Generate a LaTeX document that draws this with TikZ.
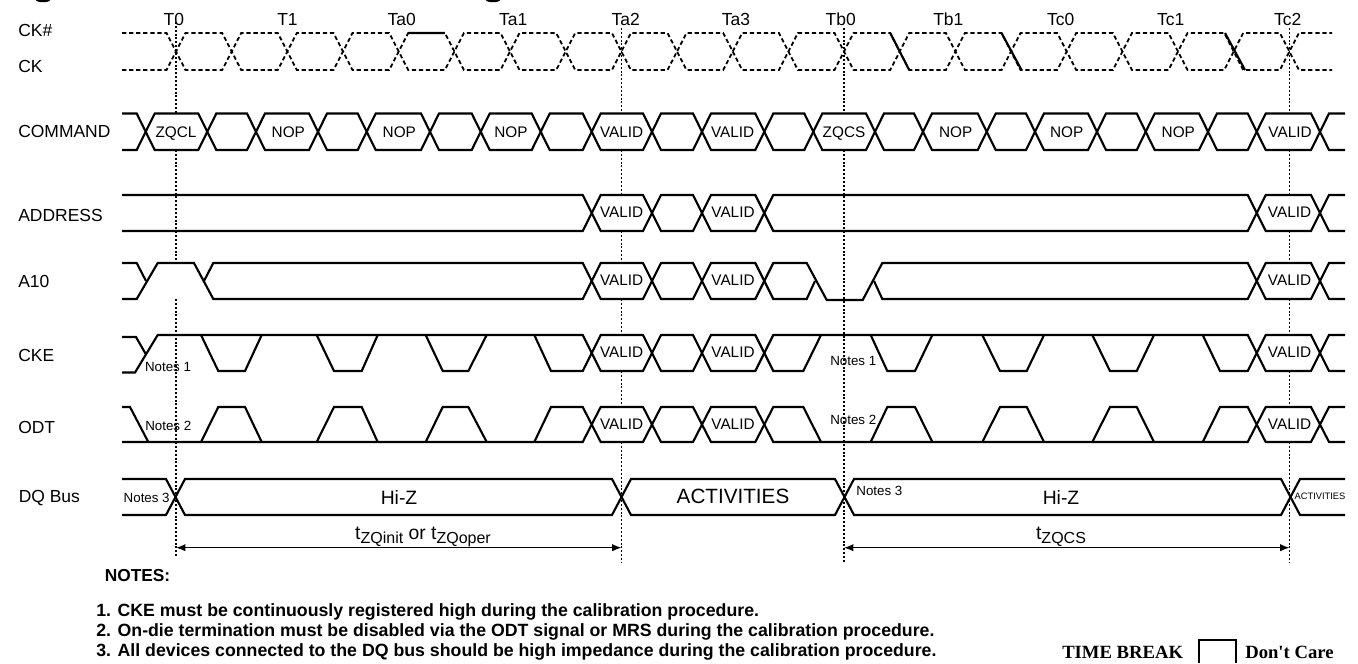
\documentclass[tikz,border=0pt]{standalone}
\usepackage{fontspec}
\usetikzlibrary{arrows.meta}
\setmainfont{Liberation Sans}
\newfontfamily\legendfont{Liberation Serif}

\newcommand{\tsub}[1]{t\raisebox{-3pt}{\fontsize{12}{12}\selectfont #1}}

% clock, start level and other level
\newcommand{\ckwave}[2]{(122,#1) -- (166.5,#1) -- (185.5,#2) -- (222.2,#2) -- (241.2,#1) -- (277.8,#1) -- (296.8,#2)
  -- (333.5,#2) -- (352.5,#1) -- (389.2,#1) -- (408.2,#2) -- (444.9,#2) -- (463.9,#1) -- (500.5,#1) -- (519.5,#2)
  -- (556.2,#2) -- (575.2,#1) -- (611.9,#1) -- (630.9,#2) -- (667.5,#2) -- (686.5,#1) -- (723.2,#1) -- (742.2,#2)
  -- (778.9,#2) -- (797.9,#1) -- (834.5,#1) -- (853.5,#2) -- (890.2,#2) -- (909.2,#1) -- (945.9,#1) -- (964.9,#2)
  -- (1001.5,#2) -- (1020.5,#1) -- (1057.2,#1) -- (1076.2,#2) -- (1112.9,#2) -- (1131.9,#1) -- (1168.5,#1) -- (1187.5,#2)
  -- (1224.2,#2) -- (1243.2,#1) -- (1279.9,#1) -- (1298.9,#2) -- (1332,#2)}
% command bus
\newcommand{\cmdwave}[2]{(122,#1) -- (136.7,#1) -- (154.7,#2) -- (198.3,#2) -- (216.3,#1) -- (247,#1) -- (265,#2)
  -- (309,#2) -- (327,#1) -- (357.7,#1) -- (375.7,#2) -- (421,#2) -- (439,#1) -- (471.7,#1) -- (489.7,#2)
  -- (531.7,#2) -- (549.7,#1) -- (582.7,#1) \validpair{#1}{#2} -- (804.3,#1) -- (822.3,#2)
  -- (866,#2) -- (884,#1) -- (914,#1) -- (932,#2) -- (977.7,#2) -- (995.7,#1) -- (1026,#1) -- (1044,#2)
  -- (1088,#2) -- (1106,#1) -- (1136.7,#1) -- (1154.7,#2) -- (1199,#2) -- (1217,#1) -- (1247.7,#1) \validlast{#1}{#2}}
\newcommand{\validpair}[2]{-- (600.7,#2) -- (643,#2) -- (661,#1) -- (693,#1) -- (711,#2) -- (755.3,#2) -- (773.3,#1)}
\newcommand{\validlast}[2]{-- (1265.7,#2) -- (1311,#2) -- (1329,#1) -- (1345,#1)}
% the dents of CKE and the humps of ODT
\newcommand{\dents}[2]{(201,#1) -- (218.3,#2) -- (245,#2) -- (261.7,#1)
  (316.7,#1) -- (334,#2) -- (361.7,#2) -- (377.7,#1)
  (425.7,#1) -- (442.7,#2) -- (468.3,#2) -- (486.7,#1)
  (534.3,#1) -- (551,#2) -- (582.7,#2) \validpair{#2}{#1} -- (803.3,#2) -- (821,#1)
  (870.7,#1) -- (887.3,#2) -- (915,#2) -- (932.3,#1)
  (982.3,#1) -- (1000,#2) -- (1026.7,#2) -- (1044,#1)
  (1092.3,#1) -- (1110,#2) -- (1136.7,#2) -- (1154,#1)
  (1202.7,#1) -- (1220,#2) -- (1247.7,#2) \validlast{#2}{#1}}

\tikzset{
  wave/.style={line width=1.6pt,line join=miter},
  ckdash/.style={line width=1.35pt,dash pattern=on 3.2pt off 2.1pt},
  marker/.style={line width=.9pt,dash pattern=on 1.5pt off 1.4pt},
  span/.style={line width=1pt,{Latex[length=7pt,width=5.5pt]}-{Latex[length=7pt,width=5.5pt]}},
  signame/.style={anchor=west,inner sep=0pt,text height=9.4pt,text depth=0pt,font=\fontsize{13.1}{13.1}\selectfont},
  tick/.style={inner sep=0pt,text height=9.4pt,text depth=0pt,font=\fontsize{13.1}{13.1}\selectfont},
  cell/.style={inner sep=0pt,text height=8.2pt,text depth=0pt,font=\fontsize{11.5}{11.5}\selectfont},
  noteref/.style={inner sep=0pt,font=\fontsize{10}{10}\selectfont},
  notetext/.style={anchor=west,inner sep=0pt,font=\fontsize{13.3}{13.3}\selectfont\bfseries},
  legend/.style={inner sep=0pt,font=\fontsize{14}{14}\selectfont\legendfont\bfseries}
}

\begin{document}
\begin{tikzpicture}[x=.75pt,y=-.75pt]
  \useasboundingbox (0,0) rectangle (1358,663);

  % what is left of the cut heading
  \fill (43,0) ellipse (7 and 2.2) (493,0) ellipse (7 and 2.2);

  \draw[marker] (176,22) -- (176,113)    (176,150) -- (176,263)    (176,299) -- (176,557);
  \draw[marker] (621.5,28) -- (621.5,113)  (621.5,150) -- (621.5,195)  (621.5,231) -- (621.5,263)
                (621.5,299) -- (621.5,335)  (621.5,371) -- (621.5,407)  (621.5,442) -- (621.5,563);
  \draw[marker] (844,28) -- (844,113)    (844,150) -- (844,563);
  \draw[marker] (1289.5,28) -- (1289.5,113)  (1289.5,150) -- (1289.5,195)  (1289.5,231) -- (1289.5,263)
                (1289.5,299) -- (1289.5,335)  (1289.5,371) -- (1289.5,407)  (1289.5,442) -- (1289.5,563);

  \draw[ckdash] \ckwave{33}{70};
  \draw[ckdash] \ckwave{70}{33};
  \draw[wave]   (408.2,33) -- (444.9,33)
                (890.2,33) -- (909.2,70)
                (1001.5,33) -- (1021.5,70)
                (1225,33) -- (1245,70);

  \draw[wave] \cmdwave{113.5}{150};
  \draw[wave] \cmdwave{150}{113.5};

  \draw[wave] (122,195) -- (582.7,195) \validpair{195}{231} -- (1247.7,195) \validlast{195}{231};
  \draw[wave] (122,231) -- (582.7,231) \validpair{231}{195} -- (1247.7,231) \validlast{231}{195};

  \draw[wave] (122,263) -- (136.7,263) -- (146,281);
  \draw[wave] (122,299) -- (136.7,299) -- (157.7,263) -- (194,263) -- (213.3,299) -- (582.7,299)
              \validpair{299}{263} -- (806.7,299) -- (815,281);
  \draw[wave] (204,281) -- (213.3,263) -- (582.7,263) \validpair{263}{299}
              -- (806.7,263) -- (826.7,300) -- (862.7,300) -- (882.3,263) -- (1247.7,263) \validlast{263}{299};
  \draw[wave] (874,281) -- (882.3,299) -- (1247.7,299) \validlast{299}{263};

  \draw[wave] (122,337) -- (136,337) -- (145.7,354);
  \draw[wave] (122,372.5) -- (135,372.5) -- (157.7,335) -- (582.7,335) \validpair{335}{371} -- (1247.7,335) \validlast{335}{371};
  \draw[wave] \dents{335}{371};

  \draw[wave] (122,407) -- (130,407) -- (148.3,442);
  \draw[wave] (122,442) -- (582.7,442) \validpair{442}{407} -- (1247.7,442) \validlast{442}{407};
  \draw[wave] \dents{442}{407};

  \draw[wave] (122,479) -- (166,479) -- (185,515) -- (612,515) -- (631,479) -- (835,479) -- (854,515) -- (1281,515) -- (1300,479) -- (1345,479);
  \draw[wave] (122,515) -- (166,515) -- (185,479) -- (612,479) -- (631,515) -- (835,515) -- (854,479) -- (1281,479) -- (1300,515) -- (1345,515);

  \node[signame] (ckn)     at (18,30.7)  {CK\#};
  \node[signame] (ck)      at (18,66.7)  {CK};
  \node[signame] (command) at (18,131.7) {COMMAND};
  \node[signame] (address) at (18,215)   {ADDRESS};
  \node[signame] (aten)    at (18,281.7) {A10};
  \node[signame] (cke)     at (18,355)   {CKE};
  \node[signame] (odt)     at (18,427.7) {ODT};
  \node[signame] (dqbus)   at (18.5,496) {DQ Bus};

  \node[tick] (t0)  at (173.8,19.3)  {T0};
  \node[tick] (t1)  at (287.5,19.3)  {T1};
  \node[tick] (ta0) at (401.7,19.3)  {Ta0};
  \node[tick] (ta1) at (513.3,19.3)  {Ta1};
  \node[tick] (ta2) at (625.7,19.3)  {Ta2};
  \node[tick] (ta3) at (736,19.3)    {Ta3};
  \node[tick] (tb0) at (840.7,19.3)  {Tb0};
  \node[tick] (tb1) at (948.3,19.3)  {Tb1};
  \node[tick] (tc0) at (1060.7,19.3) {Tc0};
  \node[tick] (tc1) at (1170.7,19.3) {Tc1};
  \node[tick] (tc2) at (1287.7,19.3) {Tc2};

  \node[cell] (zqcl)   at (176,131.7)    {ZQCL};
  \node[cell] (nopa)   at (288.3,131.7)  {NOP};
  \node[cell] (nopb)   at (399.3,131.7)  {NOP};
  \node[cell] (nopc)   at (511,131.7)    {NOP};
  \node[cell] (cmdva)  at (621.7,131.7)  {VALID};
  \node[cell] (cmdvb)  at (732.7,131.7)  {VALID};
  \node[cell] (zqcs)   at (844,131.7)    {ZQCS};
  \node[cell] (nopd)   at (955.7,131.7)  {NOP};
  \node[cell] (nope)   at (1066.7,131.7) {NOP};
  \node[cell] (nopf)   at (1178.3,131.7) {NOP};
  \node[cell] (cmdvc)  at (1290,131.7)   {VALID};

  \node[cell] (addrva) at (621.7,212.5)  {VALID};
  \node[cell] (addrvb) at (733,212.5)    {VALID};
  \node[cell] (addrvc) at (1289.5,212.5) {VALID};
  \node[cell] (atenva) at (621.7,280.5)  {VALID};
  \node[cell] (atenvb) at (733,280)      {VALID};
  \node[cell] (atenvc) at (1289.5,280)   {VALID};
  \node[cell] (ckeva)  at (621.7,351.7)  {VALID};
  \node[cell] (ckevb)  at (733,351.7)    {VALID};
  \node[cell] (ckevc)  at (1289.5,351.7) {VALID};
  \node[cell] (odtva)  at (621.7,424)    {VALID};
  \node[cell] (odtvb)  at (733,424)      {VALID};
  \node[cell] (odtvc)  at (1289.5,424)   {VALID};

  \node[noteref] (noa) at (168,366.7)   {Notes 1};
  \node[noteref] (nob) at (168.3,426)   {Notes 2};
  \node[noteref] (noc) at (853.3,361)   {Notes 1};
  \node[noteref] (nod) at (853.3,420)   {Notes 2};
  \node[noteref] (noe) at (146.7,497.7) {Notes 3};
  \node[noteref] (nof) at (879.4,490.7) {Notes 3};

  \node[inner sep=0pt,font=\fontsize{14.5}{14.5}\selectfont] (hiza) at (399,497)  {Hi-Z};
  \node[inner sep=0pt,font=\fontsize{14.5}{14.5}\selectfont] (hizb) at (1061,497) {Hi-Z};
  \node[inner sep=0pt,font=\fontsize{15.5}{15.5}\selectfont] (act)  at (733,496)  {ACTIVITIES};
  \node[inner sep=0pt,font=\fontsize{7}{7}\selectfont]       (actb) at (1320,496) {ACTIVITIES};

  \coordinate (spana) at (176,547.7);
  \coordinate (spanb) at (621.5,547.7);
  \coordinate (spanc) at (844,547.7);
  \coordinate (spand) at (1289.5,547.7);
  \draw[span] (spana) -- (spanb);
  \draw[span] (spanc) -- (spand);
  \node[inner sep=0pt,font=\fontsize{14.5}{14.5}\selectfont] (tinit) at (423,537)  {\tsub{ZQinit} or \tsub{ZQoper}};
  \node[inner sep=0pt,font=\fontsize{14.5}{14.5}\selectfont] (tcs)   at (1061,537) {\tsub{ZQCS}};

  \node[anchor=west,inner sep=0pt,font=\fontsize{13}{13}\selectfont\bfseries] (notes) at (104.5,576) {NOTES:};
  \node[notetext] (notea) at (96,611.7) {1. CKE must be continuously registered high during the calibration procedure.};
  \node[notetext] (noteb) at (96,631.7) {2. On-die termination must be disabled via the ODT signal or MRS during the calibration procedure.};
  \node[notetext] (notec) at (96,651.7) {3. All devices connected to the DQ bus should be high impedance during the calibration procedure.};

  \node[legend,anchor=west] (tbreak) at (1062,652.7) {TIME BREAK};
  \draw[line width=1.6pt] (1199,663) -- (1199,640) -- (1236,640) -- (1236,663);
  \node[legend,anchor=west] (dcare)  at (1245,652.7) {Don't Care};
\end{tikzpicture}
\end{document}
